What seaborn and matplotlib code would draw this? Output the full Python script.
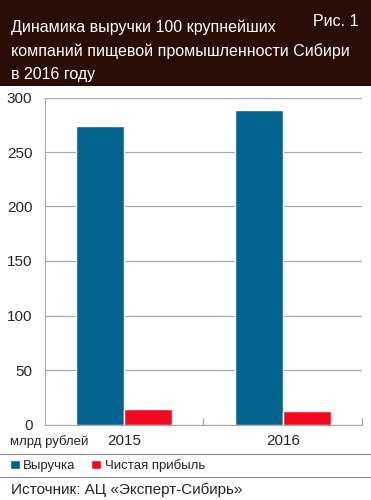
import pandas as pd
import matplotlib.pyplot as plt
import seaborn as sns
from matplotlib.patches import Rectangle, Patch

# Данные
years = ['2015', '2016']
revenue = [273.5, 288.5]
profit = [14.3, 12.5]
series = ['Выручка', 'Чистая прибыль']
colors = ['#03638f', '#f5071f']
title_lines = ['Динамика выручки 100 крупнейших',
               'компаний пищевой промышленности Сибири',
               'в 2016 году']

data = pd.DataFrame({
    'Год': years * 2,
    'Серия': [series[0]] * 2 + [series[1]] * 2,
    'Значение': revenue + profit,
})

sns.set_style('white')
plt.rcParams['font.family'] = ['Liberation Sans', 'DejaVu Sans']

fig = plt.figure(figsize=(3.71, 5), dpi=100)

# Заголовок
fig.patches.append(Rectangle((0, 0.828), 1, 0.172, transform=fig.transFigure,
                             facecolor='#2a0e06', edgecolor='none', zorder=0))
for i, line in enumerate(title_lines):
    fig.text(0.03, 0.946 - i * 0.048, line, color='white', fontsize=11.5,
             va='center', ha='left')
fig.text(0.965, 0.956, 'Рис. 1', color='white', fontsize=11.5, va='center', ha='right')

ax = fig.add_axes([0.121, 0.151, 0.855, 0.654])
sns.barplot(data=data, x='Год', y='Значение', hue='Серия', palette=colors,
            width=0.605, gap=0, saturation=1, legend=False, ax=ax, zorder=3)

ax.set_ylim(0, 300)
ax.set_yticks(range(0, 301, 50))
ax.yaxis.grid(True, color='#a8a8a8', linewidth=0.9, zorder=0)
ax.set_axisbelow(True)
ax.set_xlabel('')
ax.set_ylabel('')
for s in ['top', 'right']:
    ax.spines[s].set_visible(False)
ax.spines['left'].set_color('#a8a8a8')
ax.spines['bottom'].set_color('#a8a8a8')
ax.tick_params(axis='y', length=0, labelsize=11, pad=9)
ax.tick_params(axis='x', length=0, labelsize=11, pad=7)
for xb in [0.5, 1.5]:
    ax.plot([xb, xb], [0, 6], color='#a8a8a8', linewidth=0.9, clip_on=False)
ax.set_xlim(-0.5, 1.5)
fig.text(0.027, 0.117, 'млрд рублей', fontsize=9.5, va='center', ha='left')

# Линии и легенда
fig.add_artist(plt.Line2D([0, 1], [0.093, 0.093], color='#8a8a8a', linewidth=0.8))
fig.add_artist(plt.Line2D([0, 1], [0.046, 0.046], color='#8a8a8a', linewidth=0.8))
handles = [Patch(facecolor=c, label=l) for c, l in zip(colors, series)]
fig.legend(handles=handles, loc='center left', bbox_to_anchor=(-0.005, 0.069), ncol=2,
           frameon=False, fontsize=9.5, handlelength=0.75, handleheight=0.75,
           handletextpad=0.25, columnspacing=1.2)

fig.text(0.03, 0.021, 'Источник: АЦ «Эксперт-Сибирь»', fontsize=11, va='center', ha='left')

fig.savefig('out.png', dpi=100)
